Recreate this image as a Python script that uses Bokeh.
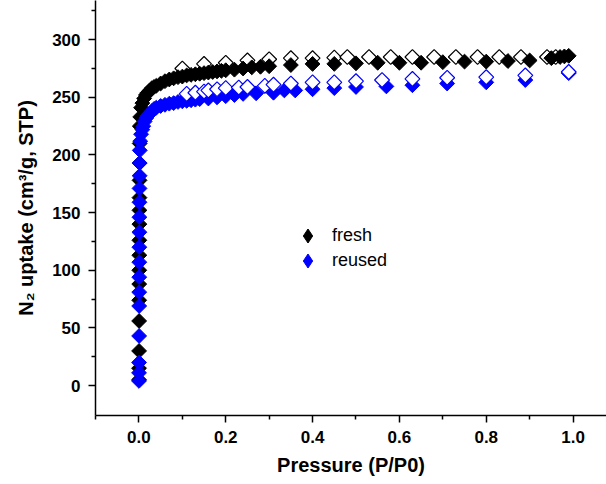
import math
from bokeh.plotting import figure
from bokeh.models import Range1d, FixedTicker, Legend, LegendItem
from bokeh.embed import file_html
from bokeh.resources import INLINE

# ---- data ----
fresh_ads_p = [0.0002, 0.0003, 0.0004, 0.0005, 0.0006, 0.0007, 0.0008, 0.0009, 0.001, 0.0011,
               0.0012, 0.0013, 0.0014, 0.0016, 0.0018, 0.002, 0.003, 0.005, 0.008, 0.012,
               0.016, 0.02, 0.025, 0.03, 0.035, 0.04, 0.05, 0.06, 0.07, 0.08, 0.09, 0.10,
               0.11, 0.12, 0.13, 0.14, 0.15, 0.16, 0.17, 0.18, 0.19, 0.20, 0.22, 0.24, 0.26,
               0.28, 0.30, 0.35, 0.40, 0.45, 0.50, 0.55, 0.60, 0.65, 0.70, 0.75, 0.80, 0.85,
               0.90, 0.95, 0.97, 0.98, 0.99]
fresh_ads_v = [5, 15, 30, 56, 74, 88, 100, 113, 126, 140, 152, 163, 178, 193, 210, 225, 233,
               241, 245, 249, 252, 254, 256, 258, 259, 260, 262, 264, 265.5, 266.5, 267.5, 268,
               269, 269.5, 270, 270.5, 271, 271.5, 272, 272.5, 273, 273.5, 274, 275, 276,
               276.5, 277, 278, 279, 279, 279.5, 280, 280, 280, 280.5, 281, 281, 281.5,
               282, 284, 285, 285.5, 286]
fresh_des_p = [0.10, 0.15, 0.20, 0.25, 0.30, 0.35, 0.40, 0.45, 0.48, 0.53, 0.58, 0.63, 0.68,
               0.73, 0.78, 0.83, 0.88, 0.94, 0.96]
fresh_des_v = [275, 279, 280, 282, 283, 284, 284, 284.5, 285, 285, 285, 285, 285, 285, 285,
               285, 285, 285, 285]

reused_ads_p = [0.0002, 0.0003, 0.0004, 0.0005, 0.0006, 0.0007, 0.0008, 0.0009, 0.001, 0.0011,
                0.0012, 0.0013, 0.0014, 0.0016, 0.0018, 0.002, 0.003, 0.005, 0.008, 0.01,
                0.013, 0.017, 0.02, 0.025, 0.03, 0.035, 0.04, 0.05, 0.06, 0.07, 0.08, 0.09,
                0.10, 0.11, 0.12, 0.13, 0.14, 0.16, 0.18, 0.20, 0.22, 0.24, 0.27, 0.31, 0.335,
                0.36, 0.40, 0.45, 0.50, 0.57, 0.63, 0.71, 0.80, 0.89, 0.99]
reused_ads_v = [4, 11, 20, 43, 69, 81, 94, 107, 120, 133, 146, 159, 171, 182, 193, 204, 212,
                218, 222, 225, 229, 232, 234, 236, 238, 240, 241, 242.5, 243.5, 244.5, 245, 246,
                246.5, 247, 247.5, 248, 248.5, 249, 250, 251, 252, 253, 253.5, 254, 256,
                256, 257, 258, 259, 259.5, 260.5, 262, 263, 265, 271]
reused_des_p = [0.11, 0.13, 0.15, 0.16, 0.18, 0.20, 0.23, 0.25, 0.29, 0.31, 0.35, 0.40, 0.45,
                0.50, 0.56, 0.63, 0.71, 0.80, 0.89, 0.99]
reused_des_v = [253, 254, 255, 256, 257, 258, 258.5, 259, 260, 261, 262, 263, 263, 264, 265,
                266, 267, 267.5, 269, 272]

x_ticks = [0.0, 0.2, 0.4, 0.6, 0.8, 1.0]
x_tick_labels = ["0.0", "0.2", "0.4", "0.6", "0.8", "1.0"]
x_minor = [-0.1, 0.1, 0.3, 0.5, 0.7, 0.9]
y_ticks = [0, 50, 100, 150, 200, 250, 300]
y_minor = [25, 75, 125, 175, 225, 275, 325]
legend_labels = ["fresh", "reused"]

FONT = "Liberation Sans"

p = figure(width=606, height=484, output_backend="svg", toolbar_location=None,
           x_range=Range1d(-0.1, 1.077), y_range=Range1d(-26, 334),
           min_border_left=95, min_border_right=0, min_border_top=0, min_border_bottom=69)
p.outline_line_color = None
p.grid.visible = False
p.background_fill_color = "white"
p.border_fill_color = "white"

for ax in (p.xaxis[0], p.yaxis[0]):
    ax.axis_line_width = 1.5
    ax.axis_line_color = "black"
    ax.major_tick_line_width = 1.5
    ax.minor_tick_line_width = 1.5
    ax.major_tick_in = 0
    ax.major_tick_out = 7
    ax.minor_tick_in = 0
    ax.minor_tick_out = 4
    ax.major_label_text_font = FONT
    ax.major_label_text_font_style = "bold"
    ax.major_label_text_font_size = "17px"
    ax.major_label_text_color = "black"
    ax.axis_label_text_font = FONT
    ax.axis_label_text_font_style = "bold"
    ax.axis_label_text_font_size = "20px"
    ax.axis_label_text_color = "black"
    ax.major_label_standoff = 8

p.xaxis[0].ticker = FixedTicker(ticks=x_ticks, minor_ticks=x_minor)
p.xaxis[0].major_label_overrides = {t: l for t, l in zip(x_ticks, x_tick_labels)}
p.yaxis[0].ticker = FixedTicker(ticks=y_ticks, minor_ticks=y_minor)
p.xaxis[0].axis_label = "Pressure (P/P0)"
p.yaxis[0].axis_label = "N\u2082 uptake (cm\u00b3/g, STP)"
p.xaxis[0].axis_label_standoff = 8
p.yaxis[0].axis_label_standoff = 12

SIZE = 10.5
ANG = math.pi / 4

r_fd = p.scatter(fresh_des_p, fresh_des_v, marker="square", size=SIZE, angle=ANG,
                 fill_color="white", line_color="black", line_width=1.2)
r_fa = p.scatter(fresh_ads_p, fresh_ads_v, marker="square", size=SIZE, angle=ANG,
                 fill_color="black", line_color="black", line_width=1)
r_ra = p.scatter(reused_ads_p, reused_ads_v, marker="square", size=SIZE, angle=ANG,
                 fill_color="#0000ff", line_color="#0000ff", line_width=1)
r_rd = p.scatter(reused_des_p, reused_des_v, marker="square", size=SIZE, angle=ANG,
                 fill_color="white", line_color="#0000ff", line_width=1.2)

# legend-key renderers (no visible data point; only their diamond key is shown)
k_f = p.scatter([math.nan], [math.nan], marker="diamond", fill_color="black", line_color="black")
k_r = p.scatter([math.nan], [math.nan], marker="diamond", fill_color="#0000ff", line_color="#0000ff")

for lab, rend, loc in ((legend_labels[0], k_f, (195, 162)), (legend_labels[1], k_r, (195, 137))):
    lg = Legend(items=[LegendItem(label=lab, renderers=[rend])],
                location=loc, padding=0, margin=0, spacing=0,
                glyph_width=35, glyph_height=35, label_height=20, label_standoff=7,
                label_text_font=FONT, label_text_font_size="18px",
                label_text_color="black",
                background_fill_alpha=0, border_line_color=None)
    p.add_layout(lg, "center")

open("out.html", "w").write(file_html(p, INLINE))
